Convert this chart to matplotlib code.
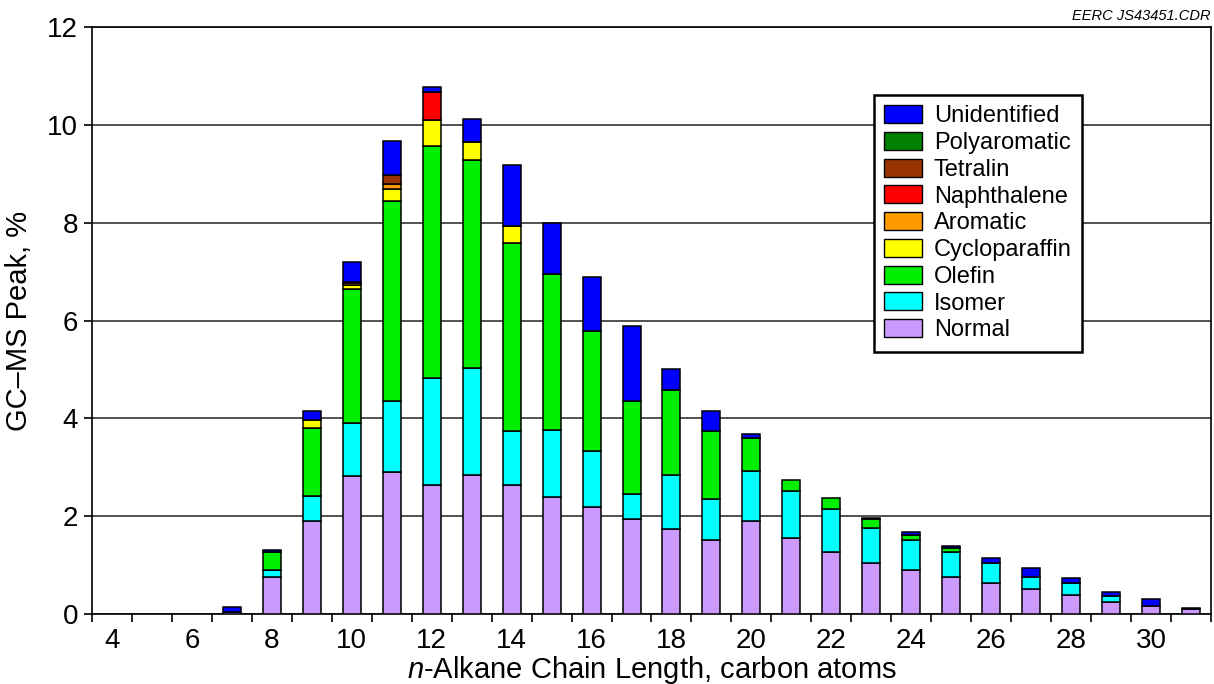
import numpy as np
import matplotlib.pyplot as plt
from matplotlib.patches import Patch

plt.rcParams['font.family'] = ['Liberation Sans', 'DejaVu Sans']
plt.rcParams['mathtext.fontset'] = 'custom'
plt.rcParams['mathtext.it'] = 'Liberation Sans:italic'
plt.rcParams['mathtext.rm'] = 'Liberation Sans'

# carbon numbers 7..31
carbon = list(range(7, 32))
normal = [0.05, 0.76, 1.91, 2.82, 2.90, 2.64, 2.85, 2.63, 2.39, 2.18, 1.94, 1.74, 1.51,
          1.91, 1.55, 1.27, 1.04, 0.90, 0.76, 0.63, 0.52, 0.38, 0.24, 0.17, 0.10]
isomer = [0.0, 0.14, 0.50, 1.08, 1.46, 2.18, 2.17, 1.12, 1.38, 1.16, 0.51, 1.10, 0.84,
          1.01, 0.97, 0.87, 0.71, 0.61, 0.50, 0.41, 0.24, 0.25, 0.13, 0.0, 0.0]
olefin = [0.0, 0.37, 1.39, 2.75, 4.09, 4.75, 4.26, 3.83, 3.18, 2.45, 1.91, 1.74, 1.40,
          0.67, 0.23, 0.23, 0.19, 0.11, 0.08, 0, 0, 0, 0, 0, 0]
cyclo = [0, 0, 0.16, 0.08, 0.24, 0.53, 0.36, 0.36, 0, 0, 0, 0, 0,
         0, 0, 0, 0, 0, 0, 0, 0, 0, 0, 0, 0]
aromatic = [0, 0, 0, 0.03, 0.10, 0, 0, 0, 0, 0, 0, 0, 0,
            0, 0, 0, 0, 0, 0, 0, 0, 0, 0, 0, 0]
naphthalene = [0, 0, 0, 0, 0, 0.57, 0, 0, 0, 0, 0, 0, 0,
               0, 0, 0, 0, 0, 0, 0, 0, 0, 0, 0, 0]
tetralin = [0, 0, 0, 0.03, 0.19, 0, 0, 0, 0, 0, 0, 0, 0,
            0, 0, 0, 0, 0, 0, 0, 0, 0, 0, 0, 0]
polyaromatic = [0] * 25
unidentified = [0.10, 0.03, 0.20, 0.41, 0.68, 0.11, 0.48, 1.23, 1.04, 1.10, 1.53, 0.42, 0.41,
                0.08, 0, 0, 0.02, 0.06, 0.06, 0.10, 0.19, 0.11, 0.08, 0.14, 0.02]

names = ['Normal', 'Isomer', 'Olefin', 'Cycloparaffin', 'Aromatic', 'Naphthalene',
         'Tetralin', 'Polyaromatic', 'Unidentified']
series = [normal, isomer, olefin, cyclo, aromatic, naphthalene, tetralin, polyaromatic, unidentified]
colors = ['#cc99ff', '#00ffff', '#00ee00', '#ffff00', '#ff9900', '#ff0000',
          '#993300', '#007f00', '#0000ff']

fig = plt.figure(figsize=(12.14, 6.84), dpi=100)
ax = fig.add_axes([0.0758, 0.1023, 0.9217, 0.8582])

x = np.array(carbon)
bottom = np.zeros(len(carbon))
for vals, c in zip(series, colors):
    v = np.array(vals, dtype=float)
    m = v > 0
    if m.any():
        ax.bar(x[m], v[m], width=0.45, bottom=bottom[m], color=c,
               edgecolor='black', linewidth=1.1, zorder=3)
    bottom += v

ax.set_xlim(3.5, 31.5)
ax.set_ylim(0, 12)
ax.set_yticks(range(0, 13, 2))
ax.set_xticks(range(4, 31, 2))
ax.set_xticks(np.arange(3.5, 31.6, 1), minor=True)
ax.tick_params(axis='x', which='major', length=0, labelsize=20, pad=10)
ax.tick_params(axis='x', which='minor', length=6, width=1.2, direction='out')
ax.tick_params(axis='y', length=6, width=1.2, labelsize=20, pad=4)
ax.grid(axis='y', color='#333333', linewidth=1.2, zorder=0)
ax.set_axisbelow(True)
for s in ax.spines.values():
    s.set_linewidth(1.2)

ax.set_ylabel('GC–MS Peak, %', fontsize=21, labelpad=10)
ax.set_xlabel(r'$\it{n}$-Alkane Chain Length, carbon atoms', fontsize=21, labelpad=0)

handles = [Patch(facecolor=c, edgecolor='black', linewidth=1.0, label=n)
           for n, c in zip(names[::-1], colors[::-1])]
leg = ax.legend(handles=handles, loc='upper left', bbox_to_anchor=(0.688, 0.905),
                fontsize=17, frameon=True, fancybox=False, edgecolor='black',
                handlelength=1.6, handleheight=0.8, handletextpad=0.5,
                labelspacing=0.19, borderpad=0.45, framealpha=1)
leg.get_frame().set_linewidth(1.8)

fig.text(0.997, 0.967, 'EERC JS43451.CDR', ha='right', va='bottom',
         fontsize=10.5, style='italic')

fig.savefig('out.png', dpi=100)
